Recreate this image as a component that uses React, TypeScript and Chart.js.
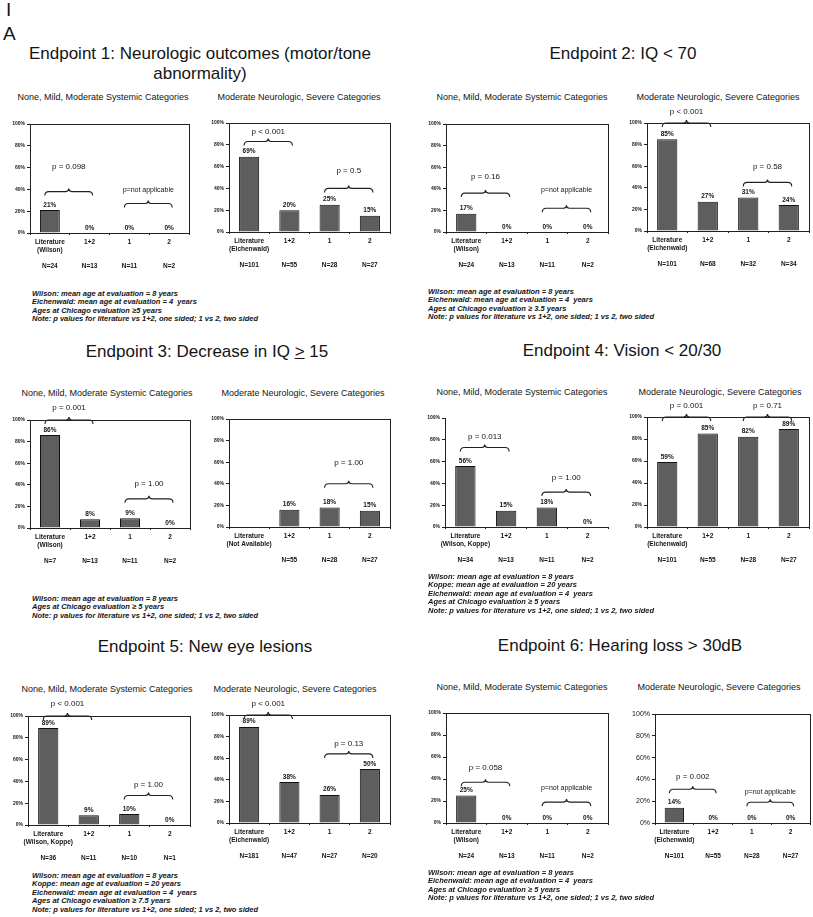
import React, { useEffect, useRef } from "react";
import { Chart, registerables } from "chart.js";

Chart.register(...registerables);

const FONT = '"Liberation Sans", Arial, Helvetica, sans-serif';

// ---------- shared categories ----------
const groupNames = ["Literature", "1+2", "1", "2"];

// ---------- Endpoint 1 ----------
const e1SysSource = "(Wilson)";
const e1SysValues = [21, 0, 0, 0];
const e1SysN = ["N=24", "N=13", "N=11", "N=2"];
const e1SysP = [
  { from: 0, to: 1, at: 38, text: "p = 0.098", textAt: 61 },
  { from: 2, to: 3, at: 27, text: "p=not applicable", textAt: 39 },
];
const e1NeuSource = "(Eichenwald)";
const e1NeuValues = [69, 20, 25, 15];
const e1NeuN = ["N=101", "N=55", "N=28", "N=27"];
const e1NeuP = [
  { from: 0, to: 1, at: 83, text: "p < 0.001", textAt: 92 },
  { from: 2, to: 3, at: 40, text: "p = 0.5", textAt: 56 },
];
const e1Notes = [
  "Wilson: mean age at evaluation = 8 years",
  "Eichenwald: mean age at evaluation = 4  years",
  "Ages at Chicago evaluation \u22655 years",
  "Note: p values for literature vs 1+2, one sided; 1 vs 2, two sided",
];

// ---------- Endpoint 2 ----------
const e2SysSource = "(Wilson)";
const e2SysValues = [17, 0, 0, 0];
const e2SysN = ["N=24", "N=13", "N=11", "N=2"];
const e2SysP = [
  { from: 0, to: 1, at: 36, text: "p = 0.16", textAt: 51 },
  { from: 2, to: 3, at: 22, text: "p=not applicable", textAt: 39 },
];
const e2NeuSource = "(Eichenwald)";
const e2NeuValues = [85, 27, 31, 24];
const e2NeuN = ["N=101", "N=68", "N=32", "N=34"];
const e2NeuP = [
  { from: 0, to: 1, at: 100, text: "p < 0.001", textAt: 110 },
  { from: 2, to: 3, at: 45, text: "p = 0.58", textAt: 59 },
];
const e2Notes = [
  "Wilson: mean age at evaluation = 8 years",
  "Eichenwald: mean age at evaluation = 4  years",
  "Ages at Chicago evaluation \u2265 3.5 years",
  "Note: p values for literature vs 1+2, one sided; 1 vs 2, two sided",
];

// ---------- Endpoint 3 ----------
const e3SysSource = "(Wilson)";
const e3SysValues = [86, 8, 9, 0];
const e3SysN = ["N=7", "N=13", "N=11", "N=2"];
const e3SysP = [
  { from: 0, to: 1, at: 100, text: "p = 0.001", textAt: 111 },
  { from: 2, to: 3, at: 27, text: "p = 1.00", textAt: 41 },
];
const e3NeuSource = "(Not Available)";
const e3NeuValues = [null, 16, 18, 15];
const e3NeuN = ["", "N=55", "N=28", "N=27"];
const e3NeuP = [{ from: 2, to: 3, at: 40, text: "p = 1.00", textAt: 59 }];
const e3Notes = [
  "Wilson: mean age at evaluation = 8 years",
  "Ages at Chicago evaluation \u2265 5 years",
  "Note: p values for literature vs 1+2, one sided; 1 vs 2, two sided",
];

// ---------- Endpoint 4 ----------
const e4SysSource = "(Wilson, Koppe)";
const e4SysValues = [56, 15, 18, 0];
const e4SysN = ["N=34", "N=13", "N=11", "N=2"];
const e4SysP = [
  { from: 0, to: 1, at: 73, text: "p = 0.013", textAt: 83 },
  { from: 2, to: 3, at: 32, text: "p = 1.00", textAt: 45 },
];
const e4NeuSource = "(Eichenwald)";
const e4NeuValues = [59, 85, 82, 89];
const e4NeuN = ["N=101", "N=55", "N=28", "N=27"];
const e4NeuP = [
  { from: 0, to: 1, at: 100, text: "p = 0.001", textAt: 110 },
  { from: 2, to: 3, at: 100, text: "p = 0.71", textAt: 110 },
];
const e4Notes = [
  "Wilson: mean age at evaluation = 8 years",
  "Koppe: mean age at evaluation = 20 years",
  "Eichenwald: mean age at evaluation = 4  years",
  "Ages at Chicago evaluation \u2265 5 years",
  "Note: p values for literature vs 1+2, one sided; 1 vs 2, two sided",
];

// ---------- Endpoint 5 ----------
const e5SysSource = "(Wilson, Koppe)";
const e5SysValues = [89, 9, 10, 0];
const e5SysN = ["N=36", "N=11", "N=10", "N=1"];
const e5SysP = [
  { from: 0, to: 1, at: 100, text: "p < 0.001", textAt: 111 },
  { from: 2, to: 3, at: 27, text: "p = 1.00", textAt: 37 },
];
const e5NeuSource = "(Eichenwald)";
const e5NeuValues = [89, 38, 26, 50];
const e5NeuN = ["N=181", "N=47", "N=27", "N=20"];
const e5NeuP = [
  { from: 0, to: 1, at: 100, text: "p < 0.001", textAt: 110 },
  { from: 2, to: 3, at: 64, text: "p = 0.13", textAt: 73 },
];
const e5Notes = [
  "Wilson: mean age at evaluation = 8 years",
  "Koppe: mean age at evaluation = 20 years",
  "Eichenwald: mean age at evaluation = 4  years",
  "Ages at Chicago evaluation \u2265 7.5 years",
  "Note: p values for literature vs 1+2, one sided; 1 vs 2, two sided",
];

// ---------- Endpoint 6 ----------
const e6SysSource = "(Wilson)";
const e6SysValues = [25, 0, 0, 0];
const e6SysN = ["N=24", "N=13", "N=11", "N=2"];
const e6SysP = [
  { from: 0, to: 1, at: 37, text: "p = 0.058", textAt: 50 },
  { from: 2, to: 3, at: 19, text: "p=not applicable", textAt: 32 },
];
const e6NeuSource = "(Eichenwald)";
const e6NeuValues = [14, 0, 0, 0];
const e6NeuN = ["N=101", "N=55", "N=28", "N=27"];
const e6NeuP = [
  { from: 0, to: 1, at: 31, text: "p = 0.002", textAt: 42 },
  { from: 2, to: 3, at: 19, text: "p=not applicable", textAt: 28 },
];
const e6Notes = [
  "Wilson: mean age at evaluation = 8 years",
  "Eichenwald: mean age at evaluation = 4  years",
  "Ages at Chicago evaluation \u2265 5 years",
  "Note: p values for literature vs 1+2, one sided; 1 vs 2, two sided",
];

const subSys = "None, Mild, Moderate Systemic Categories";
const subNeu = "Moderate Neurologic, Severe Categories";

// ---------- layout / style ----------
const Y_W = 30;
const X_H = 46;
const PAD_TOP = 24;
const PAD_RIGHT = 3;
const BAR_FILL = "#5e5e5e";
const INK = "#141414";

type Bracket = { from: number; to: number; at: number; text: string; textAt: number };
type PanelSpec = {
  plot: [number, number, number, number];
  values: (number | null)[];
  source: string;
  ns: string[];
  brackets: Bracket[];
  frame: boolean;
  tickSize?: number;
  tickBold?: boolean;
};

function makeLabels(source: string, ns: string[]) {
  return groupNames.map((g, i) => (i === 0 ? [g, source, "", ns[0]] : [g, "", "", ns[i]]));
}

function drawBrace(ctx: CanvasRenderingContext2D, x0: number, x1: number, y: number) {
  const xm = (x0 + x1) / 2;
  ctx.beginPath();
  ctx.moveTo(x0, y + 4);
  ctx.quadraticCurveTo(x0, y, x0 + 4, y);
  ctx.lineTo(xm - 3, y);
  ctx.quadraticCurveTo(xm, y, xm, y - 3);
  ctx.quadraticCurveTo(xm, y, xm + 3, y);
  ctx.lineTo(x1 - 4, y);
  ctx.quadraticCurveTo(x1, y, x1, y + 4);
  ctx.stroke();
}

function BarPanel({ spec }: { spec: PanelSpec }) {
  const ref = useRef<HTMLCanvasElement>(null);
  const [x0, y0, x1, y1] = spec.plot;
  const left = x0 - Y_W;
  const top = y0 - PAD_TOP;
  const w = x1 - left + PAD_RIGHT;
  const h = PAD_TOP + (y1 - y0) + X_H;

  useEffect(() => {
    const annot = {
      id: "annot",
      afterDatasetsDraw(chart: any) {
        const { ctx, chartArea, scales } = chart;
        const xs = scales.x;
        const ys = scales.y;
        ctx.save();
        ctx.strokeStyle = "#202020";
        ctx.lineWidth = 1;
        if (spec.frame) {
          ctx.strokeRect(
            Math.round(chartArea.left) + 0.5,
            Math.round(chartArea.top) + 0.5,
            Math.round(chartArea.right - chartArea.left),
            Math.round(chartArea.bottom - chartArea.top)
          );
        }
        const meta = chart.getDatasetMeta(0);
        ctx.fillStyle = INK;
        ctx.textAlign = "center";
        ctx.textBaseline = "bottom";
        ctx.font = `bold 6.5px ${FONT}`;
        meta.data.forEach((bar: any, i: number) => {
          const v = spec.values[i];
          if (v === null || v === undefined) return;
          ctx.fillText(`${v}%`, bar.x, ys.getPixelForValue(v) - 2);
        });
        ctx.lineWidth = 1.1;
        spec.brackets.forEach((b) => {
          const bx0 = xs.getPixelForValue(b.from) - 5;
          const bx1 = xs.getPixelForValue(b.to) + 3;
          const by = ys.getPixelForValue(b.at);
          drawBrace(ctx, bx0, bx1, by);
          ctx.font = b.text.includes("applicable") ? `7px ${FONT}` : `8px ${FONT}`;
          ctx.textBaseline = "middle";
          ctx.fillText(b.text, (bx0 + bx1) / 2, ys.getPixelForValue(b.textAt));
        });
        ctx.restore();
      },
    };

    const chart = new Chart(ref.current as HTMLCanvasElement, {
      type: "bar",
      data: {
        labels: makeLabels(spec.source, spec.ns),
        datasets: [
          {
            data: spec.values as any,
            backgroundColor: BAR_FILL,
            borderColor: "#111",
            borderWidth: 1,
            barPercentage: 0.5,
            categoryPercentage: 1,
          },
        ],
      },
      options: {
        responsive: false,
        animation: false,
        layout: { padding: { top: PAD_TOP, right: PAD_RIGHT, left: 0, bottom: 0 } },
        plugins: { legend: { display: false }, tooltip: { enabled: false } },
        scales: {
          x: {
            grid: { drawOnChartArea: false, drawTicks: true, tickLength: 2, offset: true, color: "#202020" },
            border: { color: "#202020", width: 1 },
            ticks: {
              autoSkip: false,
              maxRotation: 0,
              minRotation: 0,
              color: INK,
              padding: 3,
              font: { family: FONT, size: 6.5, weight: "bold", lineHeight: 1.25 },
            },
            afterFit: (s: any) => {
              s.height = X_H;
            },
          },
          y: {
            min: 0,
            max: 100,
            grid: { drawOnChartArea: false, drawTicks: true, tickLength: 3, color: "#202020" },
            border: { color: "#202020", width: 1 },
            ticks: {
              stepSize: 20,
              color: INK,
              padding: 2,
              callback: (v: any) => `${v}%`,
              font: {
                family: FONT,
                size: spec.tickSize ?? 5,
                weight: spec.tickBold === false ? "normal" : "bold",
              },
            },
            afterFit: (s: any) => {
              s.width = Y_W;
            },
          },
        },
      } as any,
      plugins: [annot as any],
    });
    return () => chart.destroy();
  }, []);

  return (
    <canvas
      ref={ref}
      width={w}
      height={h}
      style={{ position: "absolute", left, top, width: w, height: h }}
    />
  );
}

const panels: PanelSpec[] = [
  { plot: [30, 124, 189, 233], values: e1SysValues, source: e1SysSource, ns: e1SysN, brackets: e1SysP, frame: true },
  { plot: [229, 123, 390, 232], values: e1NeuValues, source: e1NeuSource, ns: e1NeuN, brackets: e1NeuP, frame: true },
  { plot: [446, 124, 608, 232], values: e2SysValues, source: e2SysSource, ns: e2SysN, brackets: e2SysP, frame: true },
  { plot: [647, 123, 809, 231], values: e2NeuValues, source: e2NeuSource, ns: e2NeuN, brackets: e2NeuP, frame: true },
  { plot: [30, 420, 190, 528], values: e3SysValues, source: e3SysSource, ns: e3SysN, brackets: e3SysP, frame: true },
  { plot: [229, 419, 390, 527], values: e3NeuValues, source: e3NeuSource, ns: e3NeuN, brackets: e3NeuP, frame: true },
  { plot: [445, 418, 608, 527], values: e4SysValues, source: e4SysSource, ns: e4SysN, brackets: e4SysP, frame: false },
  { plot: [647, 417, 809, 527], values: e4NeuValues, source: e4NeuSource, ns: e4NeuN, brackets: e4NeuP, frame: true },
  { plot: [28, 716, 190, 825], values: e5SysValues, source: e5SysSource, ns: e5SysN, brackets: e5SysP, frame: true },
  { plot: [229, 715, 390, 823], values: e5NeuValues, source: e5NeuSource, ns: e5NeuN, brackets: e5NeuP, frame: true },
  { plot: [446, 713, 608, 823], values: e6SysValues, source: e6SysSource, ns: e6SysN, brackets: e6SysP, frame: true },
  { plot: [655, 714, 810, 823], values: e6NeuValues, source: e6NeuSource, ns: e6NeuN, brackets: e6NeuP, frame: true, tickSize: 7, tickBold: false },
];

function Title({ cx, cy, children, lines = 1 }: { cx: number; cy: number; children: React.ReactNode; lines?: number }) {
  return (
    <div
      style={{
        position: "absolute",
        left: cx - 210,
        width: 420,
        top: cy - 10,
        textAlign: "center",
        fontSize: 17,
        lineHeight: "20px",
        whiteSpace: "nowrap",
      }}
    >
      {children}
    </div>
  );
}

function Sub({ cx, cy, text }: { cx: number; cy: number; text: string }) {
  return (
    <div
      style={{
        position: "absolute",
        left: cx - 110,
        width: 220,
        top: cy - 5.5,
        textAlign: "center",
        fontSize: 9,
        lineHeight: "11px",
        whiteSpace: "nowrap",
      }}
    >
      {text}
    </div>
  );
}

function Notes({ x, y, lines }: { x: number; y: number; lines: string[] }) {
  return (
    <div
      style={{
        position: "absolute",
        left: x,
        top: y - 4.3,
        fontSize: 7.5,
        lineHeight: "8.6px",
        fontStyle: "italic",
        fontWeight: "bold",
        whiteSpace: "pre",
      }}
    >
      {lines.map((l, i) => (
        <div key={i}>{l}</div>
      ))}
    </div>
  );
}

export default function App() {
  return (
    <div
      style={{
        position: "absolute",
        left: 0,
        top: 0,
        width: 813,
        height: 917,
        overflow: "hidden",
        background: "#ffffff",
        color: INK,
        fontFamily: FONT,
      }}
    >
      <div style={{ position: "absolute", left: 6, top: 0, fontSize: 19, lineHeight: "19px" }}>I</div>
      <div style={{ position: "absolute", left: 3, top: 24, fontSize: 19, lineHeight: "19px" }}>A</div>

      <Title cx={200} cy={54}>
        Endpoint 1: Neurologic outcomes (motor/tone
        <br />
        abnormality)
      </Title>
      <Title cx={623} cy={54}>Endpoint 2: IQ &lt; 70</Title>
      <Title cx={207} cy={352}>
        Endpoint 3: Decrease in IQ <span style={{ textDecoration: "underline" }}>&gt;</span> 15
      </Title>
      <Title cx={622} cy={351}>Endpoint 4: Vision &lt; 20/30</Title>
      <Title cx={205} cy={647}>Endpoint 5: New eye lesions</Title>
      <Title cx={620} cy={646}>Endpoint 6: Hearing loss &gt; 30dB</Title>

      <Sub cx={103} cy={97} text={subSys} />
      <Sub cx={299} cy={97} text={subNeu} />
      <Sub cx={522} cy={97} text={subSys} />
      <Sub cx={718} cy={97} text={subNeu} />
      <Sub cx={107} cy={393} text={subSys} />
      <Sub cx={303} cy={393} text={subNeu} />
      <Sub cx={522} cy={392} text={subSys} />
      <Sub cx={720} cy={392} text={subNeu} />
      <Sub cx={107} cy={689} text={subSys} />
      <Sub cx={295} cy={689} text={subNeu} />
      <Sub cx={522} cy={687} text={subSys} />
      <Sub cx={719} cy={687} text={subNeu} />

      {panels.map((p, i) => (
        <BarPanel key={i} spec={p} />
      ))}

      <Notes x={32} y={294} lines={e1Notes} />
      <Notes x={428} y={292} lines={e2Notes} />
      <Notes x={32} y={599} lines={e3Notes} />
      <Notes x={428} y={577} lines={e4Notes} />
      <Notes x={32} y={876} lines={e5Notes} />
      <Notes x={428} y={873} lines={e6Notes} />
    </div>
  );
}
